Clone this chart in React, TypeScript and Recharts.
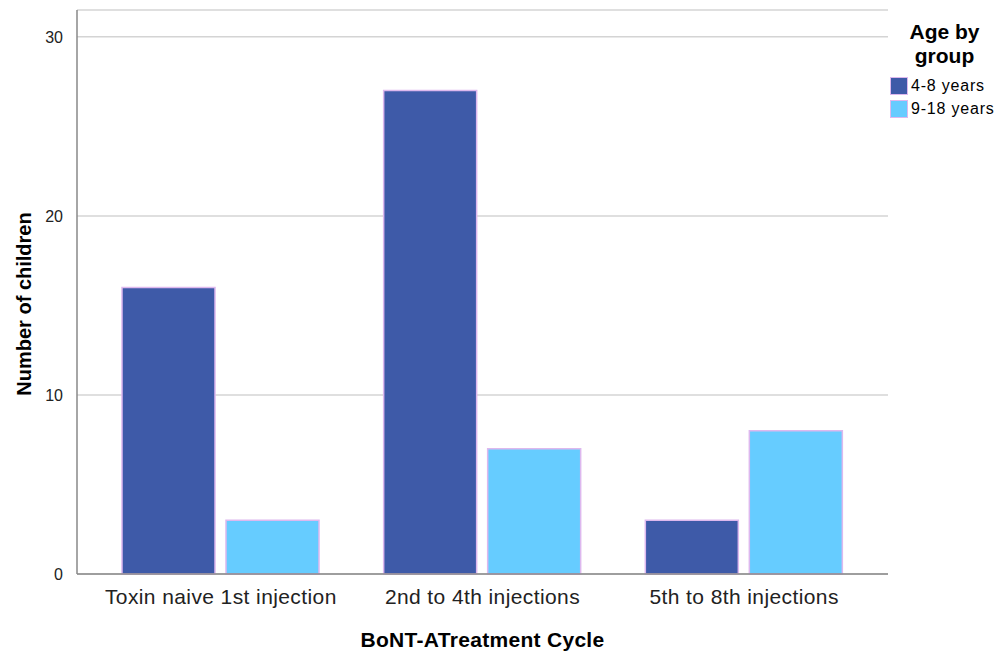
import React from 'react';
import { BarChart, Bar, XAxis, YAxis, CartesianGrid } from 'recharts';

const cycles = ['Toxin naive 1st injection', '2nd to 4th injections', '5th to 8th injections'];
const age4to8 = [16, 27, 3];
const age9to18 = [3, 7, 8];
const yTicks = [0, 10, 20, 30];
const legendTitle = ['Age by', 'group'];
const seriesNames = ['4-8 years', '9-18 years'];

const DARK = '#3E5AA8';
const LIGHT = '#66CCFF';
const EDGE = '#DDB8EE';
const FONT = '"Liberation Sans", Arial, sans-serif';

const data = cycles.map((c, i) => ({ cycle: c, young: age4to8[i], old: age9to18[i] }));

function AgeLegend() {
    const colors = [DARK, LIGHT];
    return (
        <div style={{ position: 'absolute', top: 20, left: 888, width: 113, fontFamily: FONT, color: '#000' }}>
            <div style={{ fontWeight: 'bold', fontSize: 21, lineHeight: '24px', textAlign: 'center', marginBottom: 6 }}>
                <div>{legendTitle[0]}</div>
                <div>{legendTitle[1]}</div>
            </div>
            {seriesNames.map((name, i) => (
                <div key={name} style={{ display: 'flex', alignItems: 'center', height: 23, fontSize: 16 }}>
                    <span style={{ display: 'inline-block', width: 16, height: 16, background: colors[i], border: `1px solid ${EDGE}`, marginLeft: 2, marginRight: 3 }} />
                    <span style={{ letterSpacing: 0.8 }}>{name}</span>
                </div>
            ))}
        </div>
    );
}

export default function App() {
    return (
        <div style={{ position: 'absolute', top: 0, left: 0, width: 1001, height: 654, background: '#fff' }}>
            <BarChart
                width={1001}
                height={654}
                data={data}
                margin={{ top: 10, right: 113, bottom: 0, left: 0 }}
                barGap={11}
                barCategoryGap={32}
            >
                <CartesianGrid stroke="#D4D4D4" strokeWidth={1.5} vertical={false} horizontal={true} />
                <XAxis
                    dataKey="cycle"
                    height={80}
                    padding={{ left: 13, right: 13 }}
                    tickLine={false}
                    axisLine={{ stroke: '#888', strokeWidth: 1.5 }}
                    tick={{ fill: '#222', fontSize: 21, fontFamily: FONT, letterSpacing: 0.4 }}
                    tickMargin={9}
                    label={{ value: 'BoNT-ATreatment Cycle', position: 'insideBottom', offset: 7, style: { fontWeight: 'bold', fontSize: 21, fill: '#000', fontFamily: FONT, letterSpacing: 0.3 } }}
                />
                <YAxis
                    width={77}
                    domain={[0, 31.5]}
                    ticks={yTicks}
                    tickLine={false}
                    axisLine={{ stroke: '#888', strokeWidth: 1.5 }}
                    tick={{ fill: '#222', fontSize: 16, fontFamily: FONT }}
                    tickMargin={8}
                    label={{ value: 'Number of children', angle: -90, position: 'insideLeft', offset: 24, dy: 12, style: { textAnchor: 'middle', fontWeight: 'bold', fontSize: 20, fill: '#000', fontFamily: FONT } }}
                />
                <Bar dataKey="young" name={seriesNames[0]} fill={DARK} stroke={EDGE} strokeWidth={1.5} isAnimationActive={false} />
                <Bar dataKey="old" name={seriesNames[1]} fill={LIGHT} stroke={EDGE} strokeWidth={1.5} isAnimationActive={false} />
            </BarChart>
            <AgeLegend />
        </div>
    );
}
